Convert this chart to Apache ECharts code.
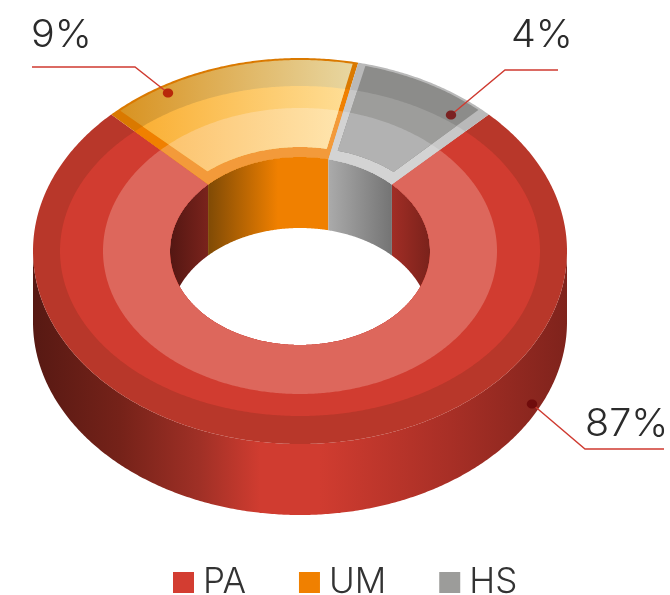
<!DOCTYPE html>
<html>
<head>
<meta charset="utf-8">
<style>html,body{margin:0;padding:0;background:#fff}#c{width:670px;height:595px}</style>
<script src="https://cdn.jsdelivr.net/npm/echarts@6/dist/echarts.min.js"></script>
</head>
<body>
<div id="c"></div>
<script>
// --- Data ---
const categories = ['PA', 'UM', 'HS'];
const percentLabels = [87, 9, 4];            // printed labels
// The reference's wedges do not follow the printed percentages; these are the drawn shares.
const drawnShares = [75, 16, 9];
const startAngle = -45;                      // degrees clockwise from top, where UM starts
const drawOrder = [1, 2, 0];                 // clockwise from startAngle: UM, HS, PA

// --- Geometry / styling ---
const CX = 300, CY = 251, DEPTH = 71;
const OUTER = [267, 193], MID = [240, 165], LOW = [197, 143], HOLE = [130, 94];
const PANEL_OUT = [264.5, 191], PANEL_IN = [144, 104];
const FONT = 'Inter';
const legendColors = ['#d33d31', '#f08000', '#9c9c9a'];
const styles = [
  { bands: ['#b8372a', '#d13c30', '#dd675c'], panel: null, panelInset: null,
    outerWall: [[33,'#571913'],[120,'#752219'],[200,'#a03026'],[260,'#d03c30'],[320,'#d03c30'],[450,'#a82f26'],[567,'#7f231c']],
    innerWall: [[171,'#551713'],[208,'#7a231c'],[393,'#a02d25'],[430,'#7a221b']] },
  { bands: ['#da7900', '#f08000', '#f39a3a'],
    panel: [['#d8901c','#e8d8a4'],['#f9a927','#ffe09a'],['#fbb95a','#ffe8b4']],
    panelInset: { startOut: 2.2, startIn: 5, endOut: -1.1, endIn: -1.9 },
    innerWall: [[208,'#7f4a05'],[278,'#f08000'],[330,'#f08000']] },
  { bands: ['#b9b9b9', '#c8c8c8', '#d3d3d3'],
    panel: [['#8c8c8a','#8c8c8a'],['#9d9d9b','#9d9d9b'],['#b2b2b2','#b2b2b2']],
    panelInset: { startOut: 1.7, startIn: 2.6, endOut: -2.6, endIn: -4.5 },
    innerWall: [[330,'#a9a9a9'],[393,'#737373']] }
];
const annotations = [
  { line: [[532,404],[585,449],[664,449]], text: [585,425], dot: '#700c0c' },
  { line: [[168,93],[135,67],[32,67]], text: [31,36], dot: '#b8280a' },
  { line: [[451,115],[505,70],[558,70]], text: [511,36], dot: '#7b2222' }
];

const grad = (stops, x0, x1) => new echarts.graphic.LinearGradient(x0, 0, x1, 0,
  stops.map(s => ({ offset: (s[0] - x0) / (x1 - x0), color: s[1] })), true);
const xGrad = stops => grad(stops, stops[0][0], stops[stops.length - 1][0]);
const pt = (deg, e, dy) => {
  const a = deg * Math.PI / 180;
  return [CX + e[0] * Math.sin(a), CY - e[1] * Math.cos(a) + (dy || 0)];
};
function arc(a0, a1, e, dy) {
  const n = Math.max(2, Math.ceil(Math.abs(a1 - a0) * 2));
  const out = [];
  for (let i = 0; i <= n; i++) out.push(pt(a0 + (a1 - a0) * i / n, e, dy));
  return out;
}
// Angle on ellipse e at which the straight edge P->Q crosses it, so wedge sides stay straight.
function crossAngle(P, Q, e, near) {
  const px = P[0] - CX, py = P[1] - CY, dx = Q[0] - P[0], dy = Q[1] - P[1];
  const A = dx * dx / (e[0] * e[0]) + dy * dy / (e[1] * e[1]);
  const B = 2 * (px * dx / (e[0] * e[0]) + py * dy / (e[1] * e[1]));
  const C = px * px / (e[0] * e[0]) + py * py / (e[1] * e[1]) - 1;
  const t = (-B - Math.sqrt(Math.max(0, B * B - 4 * A * C))) / (2 * A);
  const x = px + t * dx, y = py + t * dy;
  let deg = Math.atan2(x / e[0], -y / e[1]) * 180 / Math.PI;
  while (deg < near - 180) deg += 360;
  while (deg > near + 180) deg -= 360;
  return deg;
}
const wall = (a0, a1, e) => arc(a0, a1, e).concat(arc(a1, a0, e, DEPTH));
const poly = (points, fill, z2) => ({ type: 'polygon', z2, shape: { points }, style: { fill, stroke: null } });
function overlap(a0, a1, r0, r1) {
  const lo = Math.max(a0, r0), hi = Math.min(a1, r1);
  return hi > lo ? [lo, hi] : null;
}

function renderSlice(params, api) {
  const idx = api.value(0), a0 = api.value(1), a1 = api.value(2);
  const st = styles[idx], kids = [];
  // side walls
  const ow = overlap(a0, a1, 90, 270);
  if (ow && st.outerWall) kids.push(poly(wall(ow[0], ow[1], OUTER), xGrad(st.outerWall), 1));
  [[-90, 90], [270, 450]].forEach(r => {
    const w = overlap(a0, a1, r[0], r[1]);
    if (w) kids.push(poly(wall(w[0], w[1], HOLE), xGrad(st.innerWall), 1));
  });
  // top face bands, painted nested from outside in so no seams show
  const A0 = pt(a0, OUTER), B0 = pt(a0, HOLE), A1 = pt(a1, OUTER), B1 = pt(a1, HOLE);
  [OUTER, MID, LOW].forEach((e, i) => {
    const s = crossAngle(A0, B0, e, a0), t = crossAngle(A1, B1, e, a1);
    kids.push(poly(arc(s, t, e).concat(arc(a1, a0, HOLE)), st.bands[i], 2 + i));
  });
  // inset lighter panel
  if (st.panel) {
    const ins = st.panelInset;
    const P0 = pt(a0 + ins.startOut, PANEL_OUT), Q0 = pt(a0 + ins.startIn, PANEL_IN);
    const P1 = pt(a1 + ins.endOut, PANEL_OUT), Q1 = pt(a1 + ins.endIn, PANEL_IN);
    const gx0 = A0[0], gx1 = A1[0];
    [PANEL_OUT, MID, LOW].forEach((e, i) => {
      const s = crossAngle(P0, Q0, e, a0), t = crossAngle(P1, Q1, e, a1);
      const pts = arc(s, t, e).concat(arc(a1 + ins.endIn, a0 + ins.startIn, PANEL_IN));
      kids.push(poly(pts, grad([[gx0, st.panel[i][0]], [gx1, st.panel[i][1]]], gx0, gx1), 5 + i));
    });
  }
  // leader line, dot, label
  const an = annotations[idx];
  kids.push({ type: 'polyline', z2: 10, shape: { points: an.line },
    style: { stroke: '#cf3a30', lineWidth: 1.4, fill: null } });
  kids.push({ type: 'ellipse', z2: 11, shape: { cx: an.line[0][0], cy: an.line[0][1], rx: 5.2, ry: 4.6 },
    style: { fill: an.dot } });
  kids.push({ type: 'text', z2: 12, x: an.text[0], y: an.text[1], scaleX: 1.04,
    style: { text: percentLabels[idx] + '%', font: '300 38px ' + FONT, fill: '#2b2b2b',
             textAlign: 'left', textVerticalAlign: 'middle' } });
  return { type: 'group', children: kids };
}

let cursor = startAngle;
const ranges = {};
drawOrder.forEach(i => {
  const span = drawnShares[i] * 3.6;
  ranges[i] = [cursor, cursor + span];
  cursor += span;
});

const chart = echarts.init(document.getElementById('c'), null, { renderer: 'canvas' });
chart.setOption({
  animation: false,
  backgroundColor: '#fff',
  legend: {
    left: 173, top: 565, padding: 0, icon: 'rect', itemWidth: 21, itemHeight: 21, itemGap: 53,
    selectedMode: false,
    textStyle: { fontFamily: FONT, fontWeight: 300, fontSize: 35, color: '#333', padding: [0, 0, 5, 4] },
    data: categories.map((name, i) => ({ name, itemStyle: { color: legendColors[i] } }))
  },
  series: categories.map((name, i) => ({
    type: 'custom',
    name,
    coordinateSystem: 'none',
    silent: true,
    itemStyle: { color: legendColors[i] },
    renderItem: renderSlice,
    data: [[i, ranges[i][0], ranges[i][1]]]
  }))
});
</script>
</body>
</html>
